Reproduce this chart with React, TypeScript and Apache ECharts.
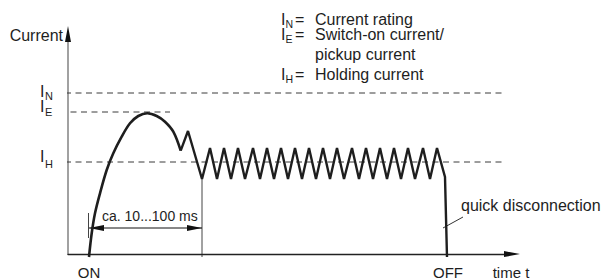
import React, { useEffect, useRef } from "react";
import * as echarts from "echarts";

// ---- data (time units / current units) ----
const levelNames = ["N", "E", "H"];
const levelValues = [161, 142, 92]; // I_N, I_E, I_H
const levelStart = [-3, -8, -3];
const levelEnd = [447, 102, 450];

// switch-on (pickup) arc
const pickupT = [21, 23.7, 27, 32, 38.7, 45.3, 53.7, 62, 70.3, 79.3, 88.7, 97, 105.3, 112.7];
const pickupI = [-3, 20.7, 40.7, 60.7, 84, 100.7, 117.3, 130.7, 138, 140.7, 138, 132.3, 122.3, 103.3];

// holding phase (chopped current) and quick disconnection
const holdT = [
  112.7, 120, 134, 142, 149, 156, 163, 170, 177, 185, 192, 199, 206, 213, 220, 227, 234,
  241, 248, 255, 262, 269, 276, 284, 291, 298, 305, 312, 319, 326, 333, 340, 347, 355,
  362, 369, 377, 379,
];
const holdI = [
  103.3, 123, 75, 106, 75, 106, 75, 106, 75, 106, 75, 106, 75, 106, 75, 106, 75,
  106, 75, 106, 75, 106, 75, 106, 75, 106, 75, 106, 75, 106, 75, 106, 75, 106,
  75, 106, 77, -3,
];

const onTime = 21;
const offTime = 379;
const spanEndTime = 134;
const spanCurrent = 26;
const spanLabel = "ca. 10...100 ms";

const legendSymbols = ["N", "E", "", "H"];
const legendTexts = ["Current rating", "Switch-on current/", "pickup current", "Holding current"];

const xMax = 437;
const yMax = 212;

const FONT = '"Liberation Sans", Arial, Helvetica, sans-serif';
const INK = "#1e1e1e";

function txt(text: string, x: number, y: number, size: number, align = "left", vAlign = "middle", color = INK) {
  return {
    type: "text",
    silent: true,
    style: {
      text,
      x,
      y,
      fill: color,
      font: `${size}px ${FONT}`,
      align,
      verticalAlign: vAlign,
      textAlign: align,
      textVerticalAlign: vAlign,
    },
  };
}

export default function App() {
  const ref = useRef<HTMLDivElement>(null);

  useEffect(() => {
    document.body.style.margin = "0";
    if (!ref.current) return;
    const chart = echarts.init(ref.current, undefined, { renderer: "svg" });

    const levelSeries = levelValues.map((v, k) => ({
      type: "line",
      name: "I" + levelNames[k],
      data: [
        [levelStart[k], v],
        [levelEnd[k], v],
      ],
      symbol: "none",
      clip: false,
      silent: true,
      lineStyle: { color: "#3a3a3a", width: 1, type: [6, 4.5] },
      z: 1,
    }));

    chart.setOption({
      animation: false,
      grid: { left: 68, right: 604 - 68 - xMax, top: 254 - yMax, bottom: 24, containLabel: false },
      xAxis: {
        type: "value",
        min: 0,
        max: xMax,
        axisLine: { show: true, onZero: false, lineStyle: { color: "#222", width: 1.4 } },
        axisTick: { show: false },
        axisLabel: { show: false },
        splitLine: { show: false },
      },
      yAxis: {
        type: "value",
        min: 0,
        max: yMax,
        axisLine: { show: true, onZero: false, lineStyle: { color: "#8a8a8a", width: 1.6 } },
        axisTick: { show: false },
        axisLabel: { show: false },
        splitLine: { show: false },
      },
      series: [
        ...levelSeries,
        {
          type: "line",
          name: "pickup",
          data: pickupT.map((t, k) => [t, pickupI[k]]),
          symbol: "none",
          smooth: 0.35,
          clip: false,
          silent: true,
          lineStyle: { color: INK, width: 2.6 },
          z: 3,
        },
        {
          type: "line",
          name: "hold",
          data: holdT.map((t, k) => [t, holdI[k]]),
          symbol: "none",
          clip: false,
          silent: true,
          lineStyle: { color: INK, width: 2.4, join: "miter", miterLimit: 3 },
          z: 3,
        },
      ],
    });

    const px = (t: number, i: number) => chart.convertToPixel({ gridIndex: 0 }, [t, i]) as number[];

    const [x0, y0] = px(0, 0);
    const [, yTop] = px(0, yMax);
    const [xRight] = px(xMax, 0);

    const g: any[] = [];
    // axis arrows
    g.push({
      type: "polygon",
      silent: true,
      z: 10,
      shape: { points: [[x0 - 3, yTop], [x0 + 3, yTop], [x0, yTop - 16]] },
      style: { fill: "#111" },
    });
    g.push({
      type: "polygon",
      silent: true,
      z: 10,
      shape: { points: [[xRight - 1, y0 - 3], [xRight - 1, y0 + 3], [xRight + 15, y0]] },
      style: { fill: "#111" },
    });
    g.push(txt("Current", x0 - 5, yTop - 7, 16, "right"));

    // level labels
    const labOffI = [-2, -6, -5.5];
    const labOffS = [3.4, 0, 1.8];
    levelValues.forEach((v, k) => {
      const [, yy] = px(0, v);
      g.push(txt("I", x0 - 28, yy + labOffI[k], 16));
      g.push(txt(levelNames[k], x0 - 23, yy + labOffS[k], 11));
    });

    // time span annotation
    const [sx, sy] = px(onTime, spanCurrent);
    const [ex] = px(spanEndTime, spanCurrent);
    const [, mTop] = px(0, 41);
    const [, mBot] = px(0, 16);
    const [, rTop] = px(0, 75);
    const [, rBot] = px(0, -3);
    g.push({ type: "line", silent: true, shape: { x1: sx - 0.5, y1: mTop, x2: sx - 0.5, y2: mBot }, style: { stroke: "#444", lineWidth: 1 } });
    g.push({ type: "line", silent: true, shape: { x1: ex, y1: rTop, x2: ex, y2: rBot }, style: { stroke: "#444", lineWidth: 1 } });
    g.push({ type: "line", silent: true, shape: { x1: sx, y1: sy, x2: ex, y2: sy }, style: { stroke: "#111", lineWidth: 1 } });
    g.push({ type: "polygon", silent: true, shape: { points: [[sx, sy], [sx + 15, sy - 3], [sx + 15, sy + 3]] }, style: { fill: "#111" } });
    g.push({ type: "polygon", silent: true, shape: { points: [[ex, sy], [ex - 15, sy - 3], [ex - 15, sy + 3]] }, style: { fill: "#111" } });
    g.push(txt(spanLabel, sx + 13, sy - 12, 14));

    // quick disconnection
    const [l1x, l1y] = px(375, 26);
    const [l2x, l2y] = px(395, 37);
    g.push({ type: "line", silent: true, shape: { x1: l1x, y1: l1y, x2: l2x, y2: l2y }, style: { stroke: "#333", lineWidth: 1 } });
    g.push(txt("quick disconnection", l2x - 2, l2y - 12, 16));

    // ON / OFF / time t
    const [onX] = px(onTime, 0);
    const [offX] = px(offTime, 0);
    g.push(txt("ON", onX, y0 + 18, 15, "center"));
    g.push(txt("OFF", offX + 1, y0 + 18, 15, "center"));
    g.push(txt("time t", xRight + 6, y0 + 18, 15, "center"));

    // legend
    const rowY = [19, 34.3, 54.3, 74];
    legendTexts.forEach((t, k) => {
      if (legendSymbols[k]) {
        g.push(txt("I", 281, rowY[k], 16));
        g.push(txt(legendSymbols[k], 285.5, rowY[k] + 4.5, 10.5));
        g.push(txt("=", 295, rowY[k], 16));
      }
      g.push(txt(t, 315, rowY[k], 16));
    });

    chart.setOption({ graphic: { elements: g } });

    return () => chart.dispose();
  }, []);

  return <div ref={ref} style={{ width: 604, height: 278 }} />;
}
